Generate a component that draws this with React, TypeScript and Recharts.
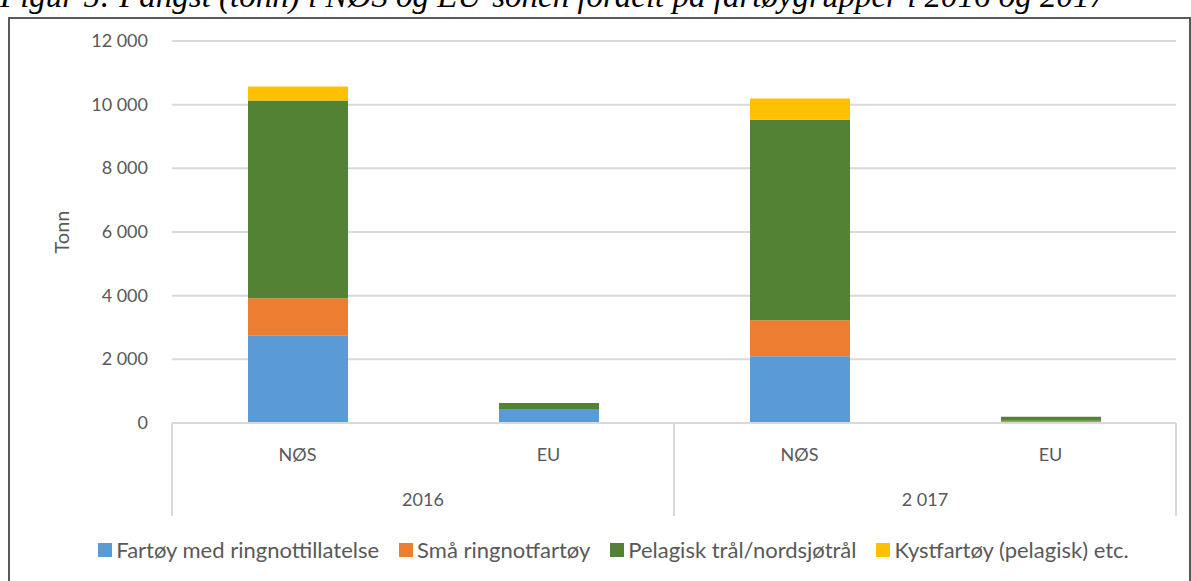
import React from 'react';
import {
  BarChart,
  Bar,
  XAxis,
  YAxis,
  CartesianGrid,
  Legend,
} from 'recharts';

// kategorier (nivå 1) og år (nivå 2)
const categories = ['NØS', 'EU', 'NØS', 'EU'];
const years = ['2016', '2016', '2 017', '2 017'];

// fangst i tonn per fartøygruppe
const ringnot = [2760, 440, 2100, 0];
const smaRingnot = [1160, 0, 1130, 70];
const pelagisk = [6210, 190, 6300, 130];
const kyst = [440, 0, 660, 0];

const seriesNames = [
  'Fartøy med ringnottillatelse',
  'Små ringnotfartøy',
  'Pelagisk trål/nordsjøtrål',
  'Kystfartøy (pelagisk) etc.',
];

const yTicks = [0, 2000, 4000, 6000, 8000, 10000, 12000];

const data = categories.map((cat, i) => ({
  key: `${years[i]}-${cat}`,
  cat,
  year: years[i],
  ringnot: ringnot[i],
  smaRingnot: smaRingnot[i],
  pelagisk: pelagisk[i],
  kyst: kyst[i],
}));

const FONT = 'Lato, "Open Sans", sans-serif';
const TEXT = '#595959';
const GRID = '#d9d9d9';

const fmt = (v: number) => String(v).replace(/\B(?=(\d{3})+(?!\d))/g, ' ');

const YTick = ({ y, payload }: any) => (
  <text x={148} y={y} dy={6} textAnchor="end" fill={TEXT} fontSize={18} fontFamily={FONT}>
    {fmt(payload.value)}
  </text>
);

// to-nivås kategoriakse som i Excel
const XTick = (props: any) => {
  const { x, y, payload, index, visibleTicksCount, width } = props;
  const n = visibleTicksCount || categories.length;
  const band = width ? width / n : 251;
  const half = band / 2;
  const year = years[index];
  const groupStart = index === 0 || years[index - 1] !== year;
  const groupEnd = index === n - 1 || years[index + 1] !== year;
  return (
    <g>
      <text x={x} y={y + 30} textAnchor="middle" fill={TEXT} fontSize={18} fontFamily={FONT}>
        {payload.value}
      </text>
      {groupStart && (
        <line x1={x - half} x2={x - half} y1={y - 8} y2={y + 85} stroke={GRID} strokeWidth={2} />
      )}
      {groupStart && (
        <text x={x + half} y={y + 75} textAnchor="middle" fill={TEXT} fontSize={18} fontFamily={FONT}>
          {year}
        </text>
      )}
      {groupEnd && (
        <line x1={x + half} x2={x + half} y1={y - 8} y2={y + 85} stroke={GRID} strokeWidth={2} />
      )}
    </g>
  );
};

const LegendContent = ({ payload }: any) => {
  const items = [...(payload || [])].sort(
    (a: any, b: any) => seriesNames.indexOf(a.value) - seriesNames.indexOf(b.value)
  );
  return (
    <div
      style={{
        display: 'flex',
        justifyContent: 'center',
        alignItems: 'center',
        gap: 20,
        paddingLeft: 36,
        fontFamily: FONT,
        fontSize: 22,
        color: TEXT,
        whiteSpace: 'nowrap',
      }}
    >
      {items.map((it: any) => (
        <div key={it.value} style={{ display: 'flex', alignItems: 'center' }}>
          <span style={{ display: 'inline-block', width: 14, height: 14, background: it.color, marginRight: 4 }} />
          <span>{it.value}</span>
        </div>
      ))}
    </div>
  );
};

export default function App() {
  return (
    <div
      style={{
        position: 'fixed',
        left: 0,
        top: 0,
        width: 1191,
        height: 581,
        overflow: 'hidden',
        background: '#fff',
      }}
    >
      <div
        style={{
          position: 'absolute',
          left: 0,
          top: -22,
          whiteSpace: 'nowrap',
          fontFamily: '"Liberation Serif", "Times New Roman", serif',
          fontStyle: 'italic',
          fontSize: 33,
          lineHeight: '36px',
          color: '#000',
        }}
      >
        Figur 5: Fangst (tonn) i NØS og EU-sonen fordelt på fartøygrupper i 2016 og 2017
      </div>
      <div
        style={{
          position: 'absolute',
          left: 8,
          top: 17,
          width: 1179,
          height: 600,
          borderLeft: '2px solid #595959',
          borderRight: '2px solid #595959',
          borderTop: '2px solid #595959',
        }}
      />
      <div style={{ position: 'absolute', left: 0, top: 0 }}>
        <BarChart
          width={1191}
          height={581}
          data={data}
          margin={{ top: 41, right: 15, left: 0, bottom: 30 }}
          barSize={100}
        >
          <CartesianGrid horizontal vertical={false} stroke={GRID} strokeWidth={2} />
          <XAxis
            dataKey="cat"
            height={100}
            interval={0}
            tickLine={false}
            axisLine={{ stroke: GRID, strokeWidth: 2 }}
            tick={<XTick />}
          />
          <YAxis
            width={172}
            domain={[0, 12000]}
            ticks={yTicks}
            axisLine={false}
            tickLine={false}
            tick={<YTick />}
            label={{
              value: 'Tonn',
              angle: -90,
              position: 'insideLeft',
              offset: 62,
              fill: TEXT,
              fontSize: 20,
              fontFamily: FONT,
              style: { textAnchor: 'middle' },
            }}
          />
          <Legend
            verticalAlign="bottom"
            content={<LegendContent />}
            wrapperStyle={{ top: 536, left: 0, width: 1191, height: 28 }}
          />
          <Bar dataKey="ringnot" name={seriesNames[0]} stackId="a" fill="#5B9BD5" isAnimationActive={false} />
          <Bar dataKey="smaRingnot" name={seriesNames[1]} stackId="a" fill="#ED7D31" isAnimationActive={false} />
          <Bar dataKey="pelagisk" name={seriesNames[2]} stackId="a" fill="#548235" isAnimationActive={false} />
          <Bar dataKey="kyst" name={seriesNames[3]} stackId="a" fill="#FFC000" isAnimationActive={false} />
        </BarChart>
      </div>
    </div>
  );
}
